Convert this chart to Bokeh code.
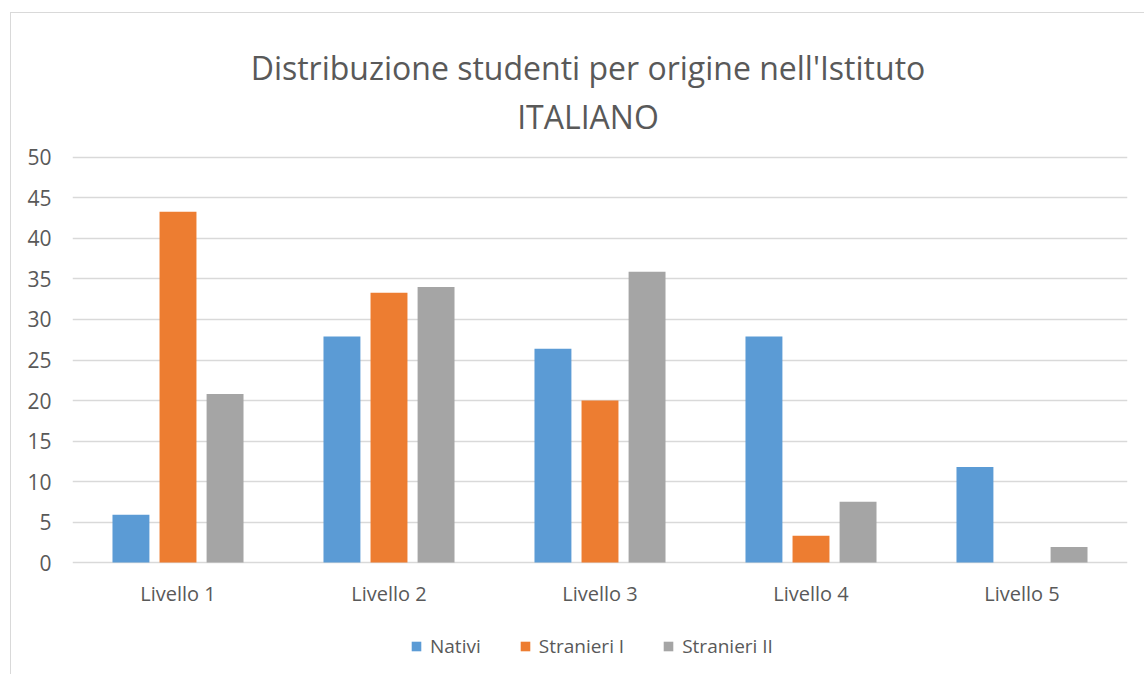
from bokeh.plotting import figure
from bokeh.models import (FactorRange, Range1d, Legend, LegendItem, ColumnDataSource,
                          FixedTicker)
from bokeh.core.properties import value
from bokeh.transform import dodge
from bokeh.embed import file_html
from bokeh.resources import INLINE

categories = ["Livello 1", "Livello 2", "Livello 3", "Livello 4", "Livello 5"]
series = ["Nativi", "Stranieri I", "Stranieri II"]
nativi = [5.9, 27.9, 26.4, 27.9, 11.8]
stranieri_1 = [43.3, 33.3, 20.0, 3.3, 0.0]
stranieri_2 = [20.8, 34.0, 35.9, 7.5, 1.9]
y_ticks = [0, 5, 10, 15, 20, 25, 30, 35, 40, 45, 50]
colors = ["#5B9BD5", "#ED7D31", "#A5A5A5"]
title_lines = ["Distribuzione studenti per origine nell'Istituto", "ITALIANO"]

FONT = "Open Sans"
TXT = "#595959"

source = ColumnDataSource(dict(cat=categories, nativi=nativi, s1=stranieri_1, s2=stranieri_2,
                               label_y=[-3.83] * len(categories)))
title_src = ColumnDataSource(dict(x=[2.443, 2.443], y=[61.11, 55.06], text=title_lines))

W, H = 1134, 662
p = figure(x_range=FactorRange(factors=categories, range_padding=0),
           y_range=Range1d(-13.333, 67.654),
           width=W, height=H, output_backend="svg", toolbar_location=None,
           min_border_left=61, min_border_right=18, min_border_top=1, min_border_bottom=5,
           title=None)
p.margin = (12, 0, 0, 10)
p.styles = {"border-left": "1px solid #d9d9d9", "border-top": "1px solid #d9d9d9"}

cols = ["nativi", "s1", "s2"]
offsets = [-0.223, 0.0, 0.223]
renderers = []
for c, off, col in zip(cols, offsets, colors):
    r = p.vbar(x=dodge("cat", off, range=p.x_range), top=c, width=0.175, source=source,
               fill_color=col, line_color=None)
    renderers.append(r)

# category labels (x axis labels)
p.text(x="cat", y="label_y", text="cat", source=source, text_align="center",
       text_baseline="middle", text_font=value(FONT), text_font_size="20px", text_color=TXT)

# chart title (two lines)
p.text(x="x", y="y", text="text", source=title_src, text_align="center",
       text_baseline="alphabetic", text_font=value(FONT), text_font_size="32px",
       text_color=TXT)

p.outline_line_color = None
p.xgrid.grid_line_color = None
p.ygrid.grid_line_color = "#d9d9d9"
p.ygrid.grid_line_width = 1.5
p.xaxis.visible = False

p.yaxis.ticker = FixedTicker(ticks=y_ticks)
p.yaxis.axis_line_color = None
p.yaxis.major_tick_line_color = None
p.yaxis.minor_tick_line_color = None
p.yaxis.major_label_standoff = 15
p.yaxis.major_label_text_font = FONT
p.yaxis.major_label_text_font_size = "21px"
p.yaxis.major_label_text_color = TXT

legend = Legend(items=[LegendItem(label=s, renderers=[r]) for s, r in zip(series, renderers)],
                orientation="horizontal", location=(338, 11),
                label_text_font=FONT, label_text_font_size="19px", label_text_color=TXT,
                glyph_width=12, glyph_height=12, label_standoff=8, spacing=38,
                border_line_color=None, background_fill_alpha=0, padding=0, margin=0)
p.add_layout(legend)

open("out.html", "w").write(file_html(p, INLINE))
